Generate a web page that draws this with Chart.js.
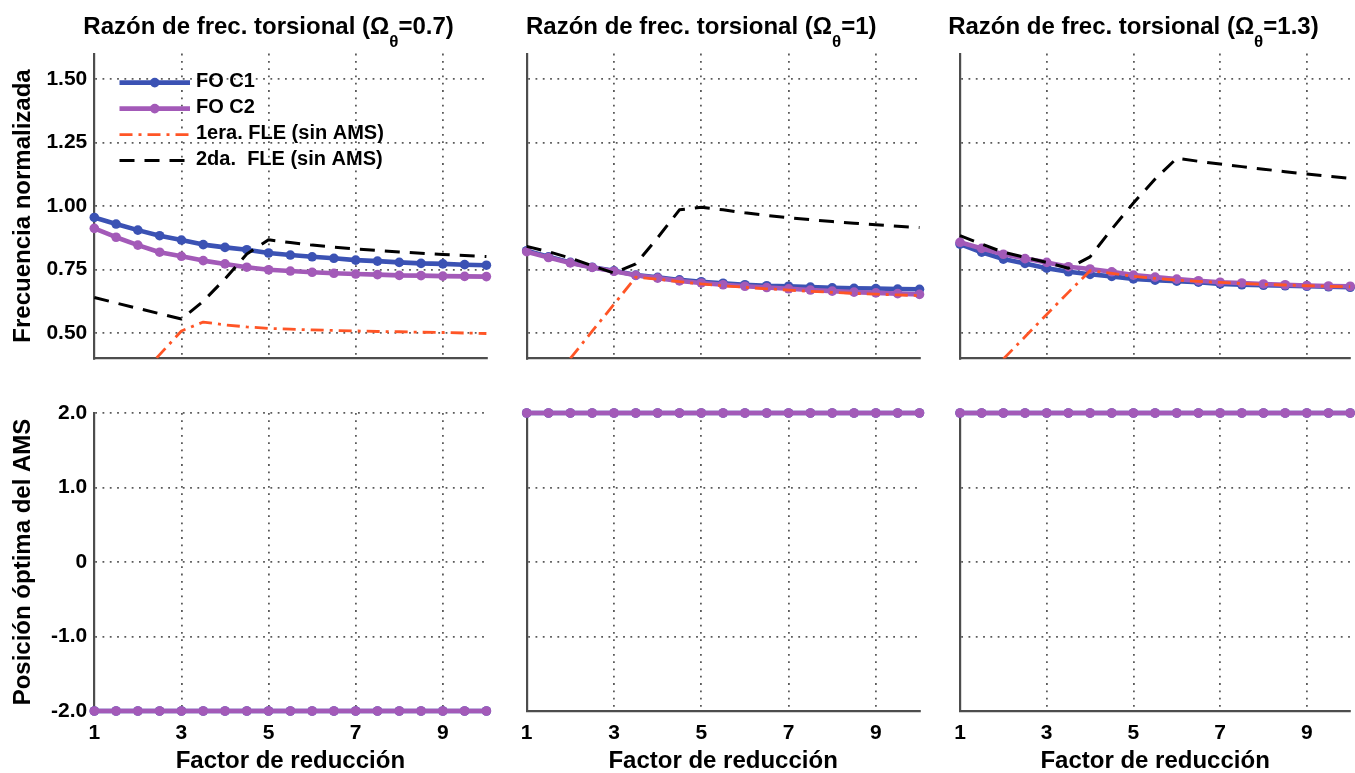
<!DOCTYPE html>
<html>
<head>
<meta charset="utf-8">
<title>Frecuencia normalizada y posición óptima del AMS</title>
<script src="https://cdn.jsdelivr.net/npm/chart.js@4.4.1/dist/chart.umd.min.js"></script>
<style>
  html, body { margin: 0; padding: 0; background: #fff; }
  #fig { position: relative; width: 1355px; height: 773px; overflow: hidden; background: #fff; }
  #fig canvas { position: absolute; }
</style>
</head>
<body>
<div id="fig"></div>
<script>
// ---- data -------------------------------------------------------------
const factor = [1, 1.5, 2, 2.5, 3, 3.5, 4, 4.5, 5, 5.5, 6, 6.5, 7, 7.5, 8, 8.5, 9, 9.5, 10];

const omegaLabels = ['0.7', '1', '1.3'];
const seriesLabels = ['FO C1', 'FO C2', '1era. FLE (sin AMS)', '2da.  FLE (sin AMS)'];

const factorTicks = [1, 3, 5, 7, 9];
const freqTicks = [0.5, 0.75, 1.0, 1.25, 1.5];
const posTicks = [-2, -1, 0, 1, 2];

// normalized frequency, torsional ratio 0.7
const freqC1_07 = [0.955, 0.929, 0.905, 0.883, 0.866, 0.848, 0.837, 0.828, 0.815, 0.807, 0.800, 0.794, 0.787, 0.783, 0.778, 0.774, 0.772, 0.769, 0.767];
const freqC2_07 = [0.912, 0.877, 0.846, 0.818, 0.802, 0.785, 0.772, 0.759, 0.749, 0.744, 0.739, 0.735, 0.732, 0.730, 0.727, 0.726, 0.724, 0.723, 0.722];
const fle1_07   = [null, null, 0.320, 0.415, 0.508, 0.543, 0.532, 0.524, 0.518, 0.515, 0.512, 0.510, 0.508, 0.506, 0.505, 0.503, 0.502, 0.500, 0.498];
const fle2_07   = [0.640, 0.618, 0.597, 0.576, 0.555, 0.625, 0.713, 0.811, 0.867, 0.856, 0.846, 0.838, 0.831, 0.825, 0.819, 0.814, 0.809, 0.805, 0.801];

// normalized frequency, torsional ratio 1
const freqC1_1 = [0.824, 0.800, 0.778, 0.759, 0.745, 0.728, 0.719, 0.709, 0.702, 0.696, 0.690, 0.686, 0.684, 0.681, 0.678, 0.676, 0.675, 0.673, 0.672];
const freqC2_1 = [0.820, 0.797, 0.776, 0.758, 0.743, 0.727, 0.716, 0.705, 0.697, 0.690, 0.684, 0.679, 0.674, 0.669, 0.665, 0.661, 0.658, 0.655, 0.652];
const fle1_1   = [null, null, 0.400, 0.507, 0.613, 0.720, 0.712, 0.702, 0.693, 0.686, 0.680, 0.674, 0.669, 0.664, 0.660, 0.656, 0.653, 0.650, 0.647];
const fle2_1   = [0.841, 0.820, 0.795, 0.765, 0.736, 0.772, 0.875, 0.985, 0.995, 0.985, 0.973, 0.963, 0.954, 0.946, 0.939, 0.932, 0.926, 0.920, 0.915];

// normalized frequency, torsional ratio 1.3
const freqC1_13 = [0.850, 0.818, 0.791, 0.774, 0.755, 0.741, 0.731, 0.723, 0.713, 0.708, 0.704, 0.700, 0.693, 0.690, 0.688, 0.686, 0.684, 0.682, 0.680];
const freqC2_13 = [0.857, 0.833, 0.810, 0.793, 0.778, 0.761, 0.752, 0.741, 0.728, 0.720, 0.712, 0.706, 0.700, 0.697, 0.693, 0.690, 0.687, 0.685, 0.684];
const fle1_13   = [null, null, 0.398, 0.485, 0.573, 0.660, 0.745, 0.735, 0.723, 0.715, 0.708, 0.703, 0.699, 0.695, 0.692, 0.689, 0.686, 0.684, 0.682];
const fle2_13   = [0.883, 0.850, 0.818, 0.798, 0.778, 0.755, 0.800, 0.909, 1.012, 1.106, 1.188, 1.176, 1.165, 1.155, 1.145, 1.135, 1.126, 1.117, 1.109];

// optimal damper position
const posC1_07 = [-2, -2, -2, -2, -2, -2, -2, -2, -2, -2, -2, -2, -2, -2, -2, -2, -2, -2, -2];
const posC2_07 = [-2, -2, -2, -2, -2, -2, -2, -2, -2, -2, -2, -2, -2, -2, -2, -2, -2, -2, -2];
const posC1_1  = [2, 2, 2, 2, 2, 2, 2, 2, 2, 2, 2, 2, 2, 2, 2, 2, 2, 2, 2];
const posC2_1  = [2, 2, 2, 2, 2, 2, 2, 2, 2, 2, 2, 2, 2, 2, 2, 2, 2, 2, 2];
const posC1_13 = [2, 2, 2, 2, 2, 2, 2, 2, 2, 2, 2, 2, 2, 2, 2, 2, 2, 2, 2];
const posC2_13 = [2, 2, 2, 2, 2, 2, 2, 2, 2, 2, 2, 2, 2, 2, 2, 2, 2, 2, 2];

// ---- styling ----------------------------------------------------------
const FONT = '"Liberation Sans", Arial, Helvetica, sans-serif';
const BLUE = '#3b52b4';
const PURPLE = '#a35ab8';
const RED = '#ff5526';
const BLACK = '#000000';
const GRID = '#5a5a5a';
const AXIS = '#4d4d4d';

Chart.defaults.font.family = FONT;
Chart.defaults.font.weight = 'bold';
Chart.defaults.color = '#000';

// canvas placement of each column / row and the plot box inside it
const columns = [
  { left: 0,   width: 500, plotLeft: 94.3,  plotRight: 486.4 },
  { left: 500, width: 433, plotLeft: 526.7, plotRight: 919.5 },
  { left: 933, width: 422, plotLeft: 960,   plotRight: 1352.5 }
];
const rows = [
  { top: 0,   height: 380, plotTop: 53.6, plotBottom: 358.4 },
  { top: 380, height: 393, plotTop: 413,  plotBottom: 711 }
];

const toPoints = (ys) => factor.map((x, i) => ({ x, y: ys[i] }));

function curve(label, ys, color, width, dash, radius, order, clip) {
  return {
    label,
    data: toPoints(ys),
    borderColor: color,
    backgroundColor: color,
    borderWidth: width,
    borderDash: dash,
    borderCapStyle: 'butt',
    borderJoinStyle: 'round',
    pointRadius: radius,
    pointBackgroundColor: color,
    pointBorderWidth: 0,
    pointHoverRadius: radius,
    tension: 0,
    spanGaps: false,
    fill: false,
    order,
    clip
  };
}

// subplot title with a subscripted theta
const panelTitle = {
  id: 'panelTitle',
  afterDraw(chart, args, opts) {
    if (!opts.omega) return;
    const ctx = chart.ctx;
    const xs = chart.scales.x;
    const cx = (xs.getPixelForValue(factorTicks[0]) + xs.getPixelForValue(factorTicks[factorTicks.length - 1])) / 2;
    const parts = [
      { text: 'Razón de frec. torsional (Ω', size: 24, dy: 0 },
      { text: 'θ', size: 17, dy: 13 },
      { text: '=' + opts.omega + ')', size: 24, dy: 0 }
    ];
    ctx.save();
    let total = 0;
    parts.forEach(p => {
      ctx.font = 'bold ' + p.size + 'px ' + FONT;
      p.w = ctx.measureText(p.text).width;
      total += p.w;
    });
    let x = cx - total / 2;
    ctx.fillStyle = '#000';
    ctx.textBaseline = 'alphabetic';
    ctx.textAlign = 'left';
    parts.forEach(p => {
      ctx.font = 'bold ' + p.size + 'px ' + FONT;
      ctx.fillText(p.text, x, opts.baseline + p.dy);
      x += p.w;
    });
    ctx.restore();
  }
};

// legend drawn inside the plot area, in the dataset order
const insideLegend = {
  id: 'insideLegend',
  afterDatasetsDraw(chart, args, opts) {
    if (!opts.show) return;
    const ctx = chart.ctx;
    const area = chart.chartArea;
    chart.data.datasets.forEach((ds, i) => {
      const y = area.top + opts.firstOffset + i * opts.spacing;
      const x0 = area.left + opts.inset;
      const x1 = x0 + opts.sampleWidth;
      ctx.save();
      ctx.strokeStyle = ds.borderColor;
      ctx.lineWidth = ds.borderWidth;
      ctx.lineCap = 'butt';
      ctx.setLineDash(ds.borderDash || []);
      ctx.beginPath();
      ctx.moveTo(x0, y);
      ctx.lineTo(x1, y);
      ctx.stroke();
      ctx.setLineDash([]);
      if (ds.pointRadius > 0) {
        ctx.fillStyle = ds.pointBackgroundColor;
        ctx.beginPath();
        ctx.arc((x0 + x1) / 2, y, ds.pointRadius, 0, Math.PI * 2);
        ctx.fill();
      }
      ctx.fillStyle = '#000';
      ctx.font = 'bold 20px ' + FONT;
      ctx.textBaseline = 'middle';
      ctx.textAlign = 'left';
      ctx.fillText(ds.label, x1 + 6, y - 1.5);
      ctx.restore();
    });
  }
};

function makePanel(colIdx, rowIdx, datasets, extra) {
  const col = columns[colIdx];
  const row = rows[rowIdx];
  const canvas = document.createElement('canvas');
  canvas.width = col.width;
  canvas.height = row.height;
  canvas.style.left = col.left + 'px';
  canvas.style.top = row.top + 'px';
  canvas.style.width = col.width + 'px';
  canvas.style.height = row.height + 'px';
  document.getElementById('fig').appendChild(canvas);

  const isTop = rowIdx === 0;
  const isFirstCol = colIdx === 0;
  const yTicks = isTop ? freqTicks : posTicks;

  return new Chart(canvas, {
    type: 'line',
    data: { datasets },
    plugins: [panelTitle, insideLegend],
    options: {
      responsive: false,
      animation: false,
      devicePixelRatio: 1,
      events: [],
      layout: {
        padding: {
          left: 0,
          top: row.plotTop - row.top,
          right: col.left + col.width - col.plotRight,
          bottom: 0
        }
      },
      plugins: {
        legend: { display: false },
        tooltip: { enabled: false },
        panelTitle: { omega: isTop ? omegaLabels[colIdx] : null, baseline: 33.5 },
        insideLegend: {
          show: !!(extra && extra.legend),
          inset: 25.2, sampleWidth: 70.5, firstOffset: 29, spacing: 26
        }
      },
      scales: {
        x: {
          type: 'linear',
          min: 1,
          max: 10,
          afterBuildTicks: (s) => { s.ticks = factorTicks.map(v => ({ value: v })); },
          afterFit: (s) => { s.height = row.top + row.height - row.plotBottom; },
          grid: { color: GRID, lineWidth: 1.8, drawTicks: false },
          border: { display: true, color: AXIS, width: 2.2, dash: [1.8, 5.5] },
          ticks: {
            display: !isTop,
            padding: 10,
            font: { size: 21, weight: 'bold' },
            color: '#000',
            callback: (v) => String(v)
          },
          title: {
            display: !isTop,
            text: 'Factor de reducción',
            font: { size: 24, weight: 'bold', lineHeight: 1 },
            color: '#000',
            padding: { top: 0, bottom: 0 }
          }
        },
        y: {
          type: 'linear',
          min: isTop ? 0.4 : -2,
          max: isTop ? 1.6 : 2,
          afterBuildTicks: (s) => { s.ticks = yTicks.map(v => ({ value: v })); },
          afterFit: (s) => { s.width = col.plotLeft - col.left; },
          grid: { color: GRID, lineWidth: 1.8, drawTicks: false },
          border: { display: true, color: AXIS, width: 2.2, dash: [1.8, 5.5] },
          ticks: {
            display: isFirstCol,
            padding: 7,
            font: { size: 21, weight: 'bold' },
            color: '#000',
            callback: (v) => isTop ? v.toFixed(2) : (v === 0 ? '0' : v.toFixed(1))
          },
          title: {
            display: isFirstCol,
            text: isTop ? 'Frecuencia normalizada' : 'Posición óptima del AMS',
            font: { size: 24, weight: 'bold', lineHeight: 1 },
            color: '#000',
            padding: { top: 11, bottom: 0 }
          }
        }
      }
    }
  });
}

const clipTop = { left: 7, right: 7, top: 7, bottom: 0 };
const clipBottom = { left: 8, right: 8, top: 8, bottom: 8 };

function freqSet(c1, c2, f1, f2) {
  return [
    curve(seriesLabels[0], c1, BLUE, 4.6, [], 4.8, 4, clipTop),
    curve(seriesLabels[1], c2, PURPLE, 4.6, [], 4.8, 3, clipTop),
    curve(seriesLabels[2], f1, RED, 2.8, [13, 6, 3, 6], 0, 2, clipTop),
    curve(seriesLabels[3], f2, BLACK, 3, [15, 10], 0, 1, clipTop)
  ];
}
function posSet(c1, c2) {
  return [
    curve(seriesLabels[0], c1, BLUE, 4.6, [], 4.8, 2, clipBottom),
    curve(seriesLabels[1], c2, PURPLE, 4.6, [], 4.8, 1, clipBottom)
  ];
}

makePanel(0, 0, freqSet(freqC1_07, freqC2_07, fle1_07, fle2_07), { legend: true });
makePanel(1, 0, freqSet(freqC1_1, freqC2_1, fle1_1, fle2_1));
makePanel(2, 0, freqSet(freqC1_13, freqC2_13, fle1_13, fle2_13));
makePanel(0, 1, posSet(posC1_07, posC2_07));
makePanel(1, 1, posSet(posC1_1, posC2_1));
makePanel(2, 1, posSet(posC1_13, posC2_13));
</script>
</body>
</html>
